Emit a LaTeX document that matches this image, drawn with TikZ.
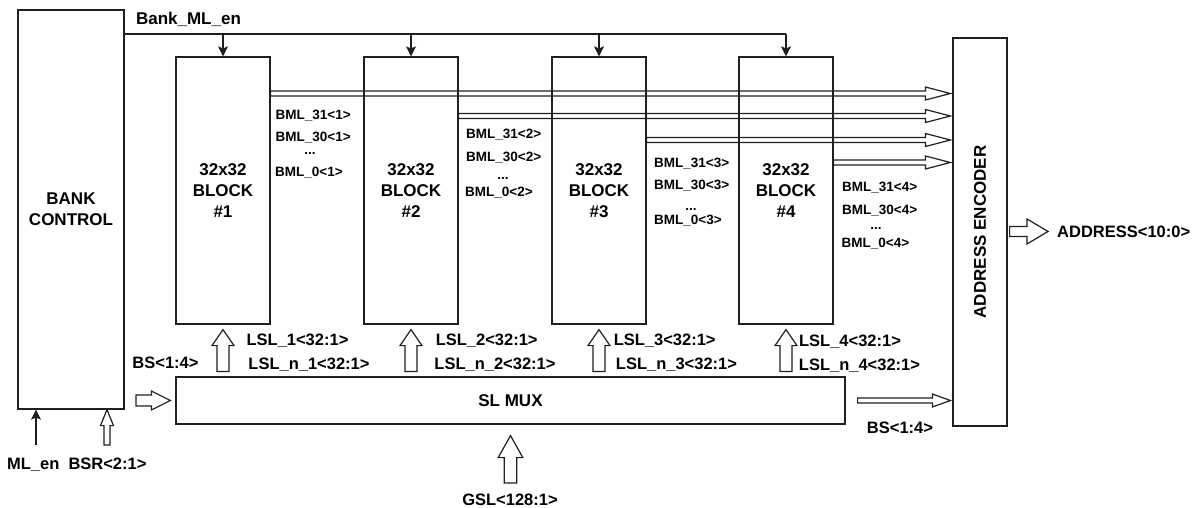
\documentclass[tikz,border=0pt]{standalone}
\usepackage{fontspec}
\setmainfont{Liberation Sans}
\usetikzlibrary{calc,arrows.meta}
\begin{document}
\begin{tikzpicture}[x=1pt,y=-1pt,
  wire/.style={line width=1.2pt, draw=black!88},
  box/.style={wire, inner sep=0pt, align=center, font=\fontsize{17}{20.8}\selectfont\bfseries},
  lbl/.style={anchor=base, inner sep=0pt, font=\fontsize{16.5}{20}\selectfont\bfseries},
  bml/.style={anchor=base west, inner sep=0pt, font=\fontsize{13.5}{16}\selectfont\bfseries},
  bmldots/.style={anchor=base, inner sep=0pt, font=\fontsize{13.5}{16}\selectfont\bfseries},
  tip/.style={wire, -{Stealth[length=10pt,width=10pt,inset=2pt]}},
  hollow/.style n args={3}{wire, line join=miter, to path={
    ($(\tikztostart)!#1!90:(\tikztotarget)$)
    -- ($($(\tikztotarget)!#3!(\tikztostart)$)!#1!90:(\tikztotarget)$)
    -- ($($(\tikztotarget)!#3!(\tikztostart)$)!#2!90:(\tikztotarget)$)
    -- (\tikztotarget)
    -- ($($(\tikztotarget)!#3!(\tikztostart)$)!#2!-90:(\tikztotarget)$)
    -- ($($(\tikztotarget)!#3!(\tikztostart)$)!#1!-90:(\tikztotarget)$)
    -- ($(\tikztostart)!#1!-90:(\tikztotarget)$)
    -- cycle}}
]
\useasboundingbox (0,0) rectangle (1194,508);

% main boxes
\node[box, minimum width=106pt, minimum height=399pt] (bank) at (71,209.5) {BANK\\CONTROL};
\node[box, minimum width=94pt, minimum height=267pt] (blk1) at (223,190.5) {32x32\\BLOCK\\\#1};
\node[box, minimum width=94pt, minimum height=267pt] (blk2) at (411,190.5) {32x32\\BLOCK\\\#2};
\node[box, minimum width=94pt, minimum height=267pt] (blk3) at (599,190.5) {32x32\\BLOCK\\\#3};
\node[box, minimum width=94pt, minimum height=267pt] (blk4) at (786,190.5) {32x32\\BLOCK\\\#4};
\node[box, minimum width=54pt, minimum height=388pt] (enc) at (980,232) {};
\node[inner sep=0pt, rotate=90, font=\fontsize{17}{20}\selectfont\bfseries] (enctxt) at (enc.center) {ADDRESS ENCODER};
\node[box, minimum width=669pt, minimum height=47pt] (mux) at (510.5,400.5) {SL MUX};

% Bank_ML_en distribution
\coordinate (en) at (bank.east |- 0,34);
\draw[wire] (en) -- (blk4.north |- en);
\foreach \i in {1,2,3,4} {
  \draw[tip] (blk\i.north |- en) -- (blk\i.north);
}
\node[lbl, font=\fontsize{17}{20}\selectfont\bfseries] (lben) at (188.5,25) {Bank\_ML\_en};

% match-line buses to address encoder
\coordinate (b1s) at (blk1.east |- 0,93.5);
\coordinate (b1t) at ($(enc.west |- b1s)+(-2,0)$);
\coordinate (b2s) at (blk2.east |- 0,116);
\coordinate (b2t) at ($(enc.west |- b2s)+(-2,0)$);
\coordinate (b3s) at (blk3.east |- 0,140);
\coordinate (b3t) at ($(enc.west |- b3s)+(-2,0)$);
\coordinate (b4s) at (blk4.east |- 0,162.5);
\coordinate (b4t) at ($(enc.west |- b4s)+(-2,0)$);
\draw[hollow={2.5pt}{6.5pt}{25pt}] (b1s) to (b1t);
\draw[hollow={2.5pt}{6.5pt}{25pt}] (b2s) to (b2t);
\draw[hollow={2.5pt}{6.5pt}{25pt}] (b3s) to (b3t);
\draw[hollow={2.5pt}{6.5pt}{25pt}] (b4s) to (b4t);

% BML labels
\node[bml] (m131) at (275.5,119.3) {BML\_31<1>};
\node[bml] (m130) at (275.5,141.7) {BML\_30<1>};
\node[bmldots] (m1d) at (310,154) {...};
\node[bml] (m10) at (275,176.7) {BML\_0<1>};
\node[bml] (m231) at (466,138.3) {BML\_31<2>};
\node[bml] (m230) at (466,161) {BML\_30<2>};
\node[bmldots] (m2d) at (503,179.3) {...};
\node[bml] (m20) at (465,196.7) {BML\_0<2>};
\node[bml] (m331) at (654,167.7) {BML\_31<3>};
\node[bml] (m330) at (654,189.3) {BML\_30<3>};
\node[bmldots] (m3d) at (691,210) {...};
\node[bml] (m30) at (654,224.7) {BML\_0<3>};
\node[bml] (m431) at (842,191) {BML\_31<4>};
\node[bml] (m430) at (842,214.3) {BML\_30<4>};
\node[bmldots] (m4d) at (876,229.3) {...};
\node[bml] (m40) at (841.5,247.3) {BML\_0<4>};

% local select lines from SL MUX to blocks
\foreach \i in {1,2,3,4} {
  \coordinate (l\i t) at ($(blk\i.south)+(0,5)$);
  \coordinate (l\i b) at ($(blk\i.south |- mux.north)+(0,-5)$);
  \draw[hollow={6pt}{11pt}{16pt}] (l\i b) to (l\i t);
}
\node[lbl] (lsl1) at (297.5,345) {LSL\_1<32:1>};
\node[lbl] (lsln1) at (309,369) {LSL\_n\_1<32:1>};
\node[lbl] (lsl2) at (486.7,345.5) {LSL\_2<32:1>};
\node[lbl] (lsln2) at (495,369) {LSL\_n\_2<32:1>};
\node[lbl] (lsl3) at (664.7,345.5) {LSL\_3<32:1>};
\node[lbl] (lsln3) at (676.5,369) {LSL\_n\_3<32:1>};
\node[lbl] (lsl4) at (850,346.5) {LSL\_4<32:1>};
\node[lbl] (lsln4) at (859.5,370) {LSL\_n\_4<32:1>};

% BS into mux
\coordinate (bsls) at (136,400.5);
\coordinate (bslt) at ($(mux.west)+(-5,0)$);
\draw[hollow={5.5pt}{9.5pt}{19pt}] (bsls) to (bslt);
\node[lbl] (bsl) at (165.5,368.7) {BS<1:4>};

% BS out of mux to encoder
\coordinate (bsrs) at ($(mux.east)+(12,0)$);
\coordinate (bsrt) at ($(enc.west |- mux.east)+(-2,0)$);
\draw[hollow={2.5pt}{6.5pt}{18pt}] (bsrs) to (bsrt);
\node[lbl] (bsr) at (900,433) {BS<1:4>};

% GSL into mux
\coordinate (gs) at (mux.south |- 0,483);
\coordinate (gt) at ($(mux.south)+(0,11)$);
\draw[hollow={6.3pt}{12.3pt}{22pt}] (gs) to (gt);
\node[lbl] (gsl) at (510,505) {GSL<128:1>};

% address output
\coordinate (ads) at ($(enc.east |- 0,231.5)+(2,0)$);
\coordinate (adt) at (1048,231.5);
\draw[hollow={5pt}{12.5pt}{21pt}] (ads) to (adt);
\node[lbl] (adr) at (1123.7,237) {ADDRESS<10:0>};

% bank control inputs
\coordinate (mls) at (36,445);
\draw[tip] (mls) -- (bank.south -| mls);
\coordinate (bsrins) at (107,445);
\coordinate (bsrint) at (bank.south -| bsrins);
\draw[hollow={3pt}{6.5pt}{16pt}] (bsrins) to (bsrint);
\node[lbl] (mlen) at (33.3,469) {ML\_en};
\node[lbl] (bsrl) at (107.5,469) {BSR<2:1>};
\end{tikzpicture}
\end{document}
